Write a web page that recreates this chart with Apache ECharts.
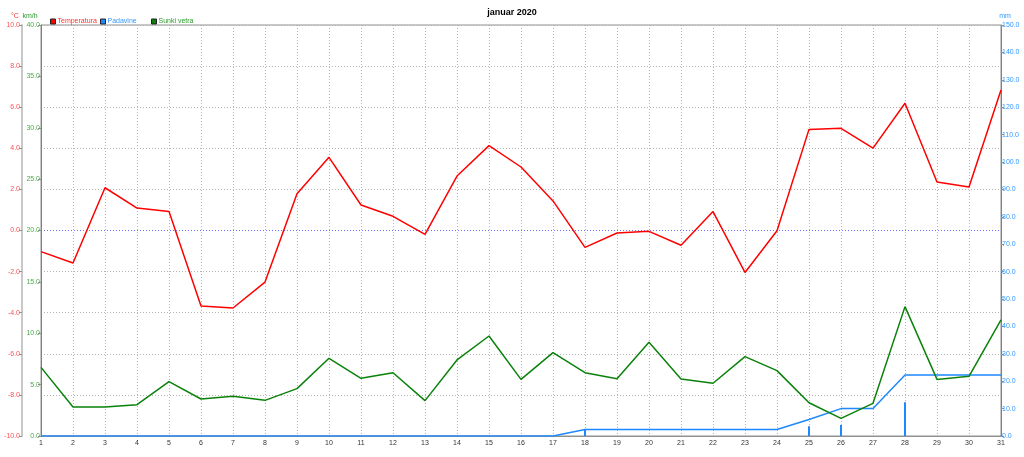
<!DOCTYPE html>
<html>
<head>
<meta charset="utf-8">
<script src="https://cdn.jsdelivr.net/npm/echarts@6/dist/echarts.min.js"></script>
<style>
html,body{margin:0;padding:0;background:#fff;}
#main{width:1024px;height:457px;}
</style>
</head>
<body>
<div id="main"></div>
<script>
var days = ['1','2','3','4','5','6','7','8','9','10','11','12','13','14','15','16','17','18','19','20','21','22','23','24','25','26','27','28','29','30','31'];
var temperatura = [-1.03,-1.58,2.08,1.09,0.92,-3.67,-3.77,-2.51,1.79,3.56,1.24,0.69,-0.19,2.65,4.13,3.09,1.44,-0.82,-0.12,-0.04,-0.72,0.92,-2.04,-0.01,4.92,4.97,4.01,6.19,2.36,2.12,6.84];
var sunkiVetra = [6.68,2.82,2.82,3.05,5.29,3.60,3.86,3.47,4.61,7.56,5.61,6.16,3.44,7.40,9.73,5.51,8.11,6.16,5.58,9.12,5.55,5.13,7.72,6.36,3.24,1.72,3.18,12.59,5.51,5.81,11.29];
var padavineDnevne = [0,0,0,0,0,0,0,0,0,0,0,0,0,0,0,0,0,2.4,0,0,0,0,0,0,3.6,4.0,0,12.3,0,0,0];
var padavineSkupaj = [0,0,0,0,0,0,0,0,0,0,0,0,0,0,0,0,0,2.4,2.4,2.4,2.4,2.4,2.4,2.4,6.0,10.0,10.0,22.3,22.3,22.3,22.3];

var FONT = 'Liberation Sans';
var G = '#b4b4b4';
var chart = echarts.init(document.getElementById('main'), null, {renderer:'canvas'});
function legendItem(name, left, color){
  return {
    left: left, top: 13, itemWidth: 5, itemHeight: 5, itemGap: 0, icon: 'rect',
    selectedMode: false,
    itemStyle: {borderColor: '#222', borderWidth: 1},
    textStyle: {fontFamily: FONT, fontSize: 7, color: color, padding: [0,0,0,-3]},
    data: [{name: name}]
  };
}
chart.setOption({
  animation: false,
  backgroundColor: '#ffffff',
  title: {
    text: 'januar 2020', left: 'center', top: 3,
    textStyle: {fontFamily: FONT, fontSize: 9, fontWeight: 'bold', color: '#000'}
  },
  legend: [
    legendItem('Temperatura', 45, '#ff3030'),
    legendItem('Padavine', 95, '#3399ff'),
    legendItem('Sunki vetra', 146, '#2a9a2a')
  ],
  grid: {left: 41, right: 23, top: 25, bottom: 21, show: true, borderColor: '#909090', borderWidth: 1},
  xAxis: {
    type: 'category', data: days, boundaryGap: false,
    axisLine: {onZero: false, lineStyle: {color: '#909090'}},
    axisTick: {show: false},
    axisLabel: {fontFamily: FONT, fontSize: 7, color: '#333', margin: 4, interval: 0},
    splitLine: {show: true, lineStyle: {color: G, type: [1,2]}}
  },
  yAxis: [
    {
      type: 'value', min: -10, max: 10, interval: 2, position: 'left', offset: 19,
      name: '°C', nameGap: 5,
      nameTextStyle: {fontFamily: FONT, fontSize: 7, color: '#ff3030', padding: [0,14,0,0]},
      axisLine: {show: true, lineStyle: {color: '#c8c8c8', width: 2}},
      axisTick: {show: true, length: 3, lineStyle: {color: '#909090'}},
      axisLabel: {fontFamily: FONT, fontSize: 7, color: '#ff5050', margin: 2, formatter: function(v){return v.toFixed(1);}},
      splitLine: {show: true, lineStyle: {color: [G,G,G,G,G,'#7070ff',G,G,G,G,G], type: [1,2]}}
    },
    {
      type: 'value', min: 0, max: 40, interval: 5, position: 'left', offset: 0,
      name: 'km/h', nameGap: 5,
      nameTextStyle: {fontFamily: FONT, fontSize: 7, color: '#2a9a2a', padding: [0,22,0,0]},
      axisLine: {show: true, lineStyle: {color: '#808080'}},
      axisTick: {show: true, length: 3, lineStyle: {color: '#909090'}},
      axisLabel: {fontFamily: FONT, fontSize: 7, color: '#4aaa4a', margin: 1, formatter: function(v){return v.toFixed(1);}},
      splitLine: {show: false}
    },
    {
      type: 'value', min: 0, max: 150, interval: 10, position: 'right', offset: 0,
      name: 'mm', nameGap: 5,
      nameTextStyle: {fontFamily: FONT, fontSize: 7, color: '#3399ff', padding: [0,0,0,8]},
      axisLine: {show: true, lineStyle: {color: '#808080'}},
      axisTick: {show: true, length: 3, lineStyle: {color: '#909090'}},
      axisLabel: {fontFamily: FONT, fontSize: 7, color: '#3399ff', margin: 1, formatter: function(v){return v.toFixed(1);}},
      splitLine: {show: false}
    }
  ],
  series: [
    {
      name: 'Temperatura', type: 'line', yAxisIndex: 0, data: temperatura,
      symbol: 'none', lineStyle: {color: '#ff0000', width: 1.5}, itemStyle: {color: '#ff0000'}, z: 5
    },
    {
      name: 'Padavine', type: 'bar', yAxisIndex: 2, data: padavineDnevne,
      barWidth: 2, itemStyle: {color: '#1e88ff'}, z: 3
    },
    {
      name: 'Padavine', type: 'line', yAxisIndex: 2, data: padavineSkupaj,
      symbol: 'none', lineStyle: {color: '#1e88ff', width: 1.5}, itemStyle: {color: '#1e88ff'}, z: 3
    },
    {
      name: 'Sunki vetra', type: 'line', yAxisIndex: 1, data: sunkiVetra,
      symbol: 'none', lineStyle: {color: '#0a820a', width: 1.5}, itemStyle: {color: '#0a820a'}, z: 4
    }
  ]
});
</script>
</body>
</html>
